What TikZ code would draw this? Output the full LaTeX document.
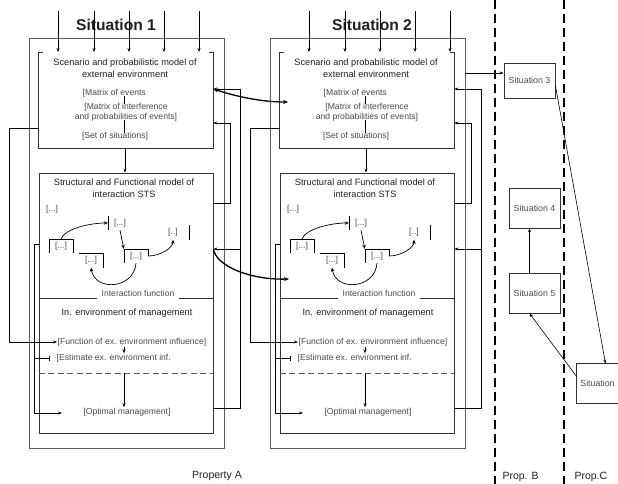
\documentclass[tikz,border=0pt]{standalone}
\usepackage{fontspec}
\setmainfont{Liberation Sans}
\usepackage{tikz}
\usetikzlibrary{arrows.meta, positioning, calc}
\definecolor{linegray}{HTML}{5a5a5a}
\definecolor{textgray}{HTML}{4a4a4a}
\definecolor{headgray}{HTML}{202020}

\begin{document}
\begin{tikzpicture}[x=1pt, y=-1pt,
    outbox/.style={draw=linegray, line width=0.8pt, inner sep=0pt},
    inbox/.style={draw=black!80, line width=0.8pt, inner sep=0pt},
    boxarea/.style={inner sep=0pt},
    arr/.style={-{Stealth[length=4pt, width=3pt]}, line width=0.7pt},
    dotarr/.style={-{Stealth[length=4pt, width=3.5pt]}, line width=0.7pt},
    curv/.style={{Stealth[length=5pt, width=4pt]}-{Stealth[length=5pt, width=4pt]}, line width=1.3pt},
    curvone/.style={-{Stealth[length=5pt, width=4pt]}, line width=1.3pt},
    headtxt/.style={font=\fontsize{9.2}{12}\selectfont, text=headgray, align=center, inner sep=1pt},
    notetxt/.style={font=\fontsize{8.6}{10}\selectfont, text=textgray, align=center, inner sep=0.5pt},
    gnode/.style={notetxt, minimum width=24pt, minimum height=14pt},
    sitbox/.style={draw=black!80, line width=0.8pt, minimum width=51pt, minimum height=40pt, inner sep=0pt, font=\fontsize{8.8}{10}\selectfont, text=textgray},
    sittitle/.style={font=\fontsize{15.6}{18}\selectfont\bfseries, text=headgray},
    proplabel/.style={font=\fontsize{10.5}{12}\selectfont, text=headgray},
    propline/.style={line width=2.6pt, dash pattern=on 9pt off 5pt},
  ]
  \fill[white] (0,0) rectangle (618,484);
  \useasboundingbox (0,0) rectangle (618,484);

  % Situations 1 and 2
  \foreach \s/\dx/\tx/\ao in {1/0/116/0, 2/241/131/10}{
  \begin{scope}[xshift=\dx pt]
    % boxes
    \node[outbox, minimum width=195pt, minimum height=410pt] (s\s out) at (126.5,243) {};
    \node[boxarea, minimum width=174pt, minimum height=95pt] (s\s scen) at (126,100.5) {};
    \node[inbox, minimum width=174pt, minimum height=260pt] (s\s str) at (126,303) {};
    \draw[black!80, line width=0.8pt] ([xshift=4pt]s\s scen.north west) -- (s\s scen.north west) -- (s\s scen.south west) -- (s\s scen.south east) -- (s\s scen.north east) -- ([xshift=-4pt]s\s scen.north east);
    \node[sittitle] (s\s title) at (\tx,25) {Situation \s};
    \foreach \a in {19,55,90,125,160}
      \draw[arr] (39+\a+\ao,11) -- +(0,41);

    % scenario model
    \node[headtxt] (s\s sch) at (125,68) {Scenario and probabilistic model of\\external environment};
    \node[notetxt, anchor=west] (s\s m1) at (82,93) {[Matrix of events};
    \node[notetxt] (s\s m2) at (126,112) {[Matrix of interference\\and probabilities of events]};
    \node[notetxt] (s\s set) at (115,136) {[Set of situations]};
    \draw[line width=0.6pt, shorten <=-1.5pt, shorten >=-1.5pt] (s\s m1.south -| 124,0) -- (s\s m2.north -| 124,0);
    \draw[line width=0.6pt, shorten <=-1.5pt, shorten >=-1.5pt] (s\s m2.south -| 124,0) -- (s\s set.north -| 124,0);
    \draw[arr] (s\s scen.south -| 125,0) -- (s\s str.north -| 125,0);

    % structural and functional model
    \node[headtxt] (s\s sth) at (124,188) {Structural and Functional model of\\interaction STS};
    \node[notetxt] (s\s dots) at (52,209) {[...]};
    \node[gnode] (s\s ga) at (120,223) {[...]};
    \draw (s\s ga.north west) -- (s\s ga.south west);
    \node[gnode] (s\s gb) at (61,246) {[...]};
    \draw (s\s gb.south west) -- (s\s gb.north west) -- (s\s gb.north east) -- (s\s gb.south east);
    \node[gnode] (s\s gc) at (91,260.5) {[...]};
    \draw (s\s gc.north west) -- (s\s gc.north east) -- (s\s gc.south east);
    \node[gnode] (s\s gd) at (136,256) {[...]};
    \draw (s\s gd.south west) -- (s\s gd.north west) -- (s\s gd.north east) -- (s\s gd.east);
    \node[gnode] (s\s ge) at (173,232.5) {[..]};
    \draw ([xshift=4pt]s\s ge.north east) -- ([xshift=4pt]s\s ge.south east);
    \draw[dotarr] (s\s gb.north) .. controls +(4,-10) and +(-18,0) .. (s\s ga.west);
    \draw[dotarr] (s\s ga.south) -- (s\s gd.north west);
    \draw[dotarr] (s\s gd.east) .. controls +(12,0) and +(0,8) .. (s\s ge.south);
    \draw[dotarr] (s\s gd.south) .. controls +(-2,26) and +(4,24) .. (s\s gc.south);
    \node[notetxt, inner xsep=4pt] (s\s if) at (138,293) {Interaction function};
    \draw[black!80, line width=0.8pt] (s\s str.west |- 0,298) -- (s\s if.west |- 0,298);
    \draw[black!80, line width=0.8pt] (s\s if.east |- 0,298) -- (s\s str.east |- 0,298);

    % management
    \node[headtxt] (s\s mh) at (127,313) {In. environment of management};
    \node[notetxt, anchor=west] (s\s fun) at (57,342) {[Function of ex. environment influence]};
    \node[notetxt, anchor=west] (s\s est) at (56,358) {[Estimate ex. environment inf.};
    \draw[arr] (s\s fun.south -| 124,0) -- (s\s est.north -| 124,0);
    \draw[linegray, line width=0.7pt, dash pattern=on 6pt off 3.5pt] (s\s str.west |- 0,373) -- (s\s str.east |- 0,373);
    \node[notetxt] (s\s opt) at (127,412) {[Optimal management]};
    \draw[arr] (124,373) -- (s\s opt.north -| 124,0);

    % feedback lines
    \draw[arr] (s\s scen.west |- 0,128) -| (9,342) -- (s\s fun.west);
    \draw[arr] (s\s str.west |- 0,244) -| (34,413) -- (62,413);
    \draw[-{Bar[width=5pt]}, line width=0.7pt] (34,358) -- (50,358);
    \draw[arr] (s\s str.east |- 0,203) -| (230,123) -- (s\s scen.east |- 0,123);
    \draw[arr] (s\s str.east |- 0,408) -| (240,89) -- (s\s scen.east |- 0,89);
    \draw[arr] (240,249) -- (s\s str.east |- 0,249);
  \end{scope}}

  % links between situations
  \coordinate (c1in) at (288,102);
  \coordinate (c2in) at (289,279);
  \draw[curv] (s1scen.east |- 0,89) .. controls (238,97) and (262,102) .. (c1in);
  \draw[curvone] (s1str.east |- 0,249) .. controls (216,266) and (250,280) .. (c2in);

  % other situations
  \node[sitbox, minimum height=35pt] (sit3) at (529.5,80.5) {Situation 3};
  \node[sitbox] (sit4) at (534.5,208) {Situation 4};
  \node[sitbox] (sit5) at (534.5,293) {Situation 5};
  \node[sitbox, draw=none, minimum width=41pt, minimum height=39pt] (sit6) at (597.5,383.5) {Situation};
  \draw[black!80, line width=0.8pt] (sit6.north east) -- (sit6.north west) -- (sit6.south west) -- (sit6.south east);
  \draw[arr] (s2out.east |- 0,73) -- (sit3.west |- 0,73);
  \draw[arr, line width=0.6pt] ([yshift=-5pt]sit3.east) -- ([xshift=8pt]sit6.north);
  \draw[arr, line width=0.6pt] ([yshift=7pt]sit6.west) -- ([xshift=-5pt]sit5.south);
  \draw[arr, line width=0.6pt] ([xshift=-5pt]sit5.north) -- ([xshift=-5pt]sit4.south);

  % properties
  \draw[propline] (495,0) -- (495,484);
  \draw[propline] (564,0) -- (564,484);
  \node[proplabel] (pa) at (217,476) {Property A};
  \node[proplabel, anchor=west] (pb) at (499,477) {Prop. B};
  \node[proplabel, anchor=west] (pc) at (571,477) {Prop.C};
\end{tikzpicture}
\end{document}
